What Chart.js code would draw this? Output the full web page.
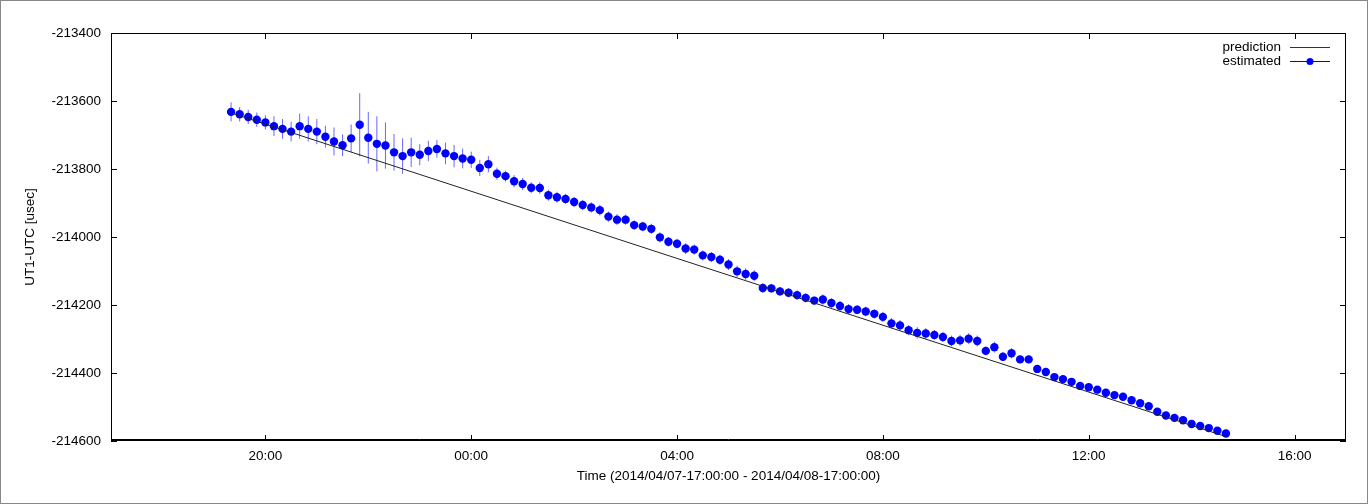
<!DOCTYPE html>
<html>
<head>
<meta charset="utf-8">
<title>UT1-UTC</title>
<script src="https://cdn.jsdelivr.net/npm/chart.js@4"></script>
<style>
  body { margin: 0; background: #fff; }
  canvas { display: block; }
</style>
</head>
<body>
<canvas id="ut1Chart" width="1368" height="504"></canvas>
<script>
// minutes after 2014/04/07 17:00, one sample every 10 minutes (19:20 .. 14:40)
const sampleMinutes = Array.from({length: 117}, (_, i) => 140 + i * 10)

const estimated = [
    -213632, -213639, -213647, -213655, -213663, -213674, -213682, -213690, -213674, -213682,
    -213690, -213705, -213719, -213730, -213710, -213670, -213708, -213726, -213731, -213751,
    -213762, -213751, -213758, -213747, -213741, -213754, -213762, -213769, -213773, -213797,
    -213786, -213814, -213821, -213836, -213844, -213855, -213856, -213877, -213883, -213888,
    -213897, -213906, -213913, -213921, -213940, -213949, -213949, -213965, -213969, -213976,
    -214001, -214014, -214020, -214034, -214037, -214054, -214059, -214067, -214081, -214101,
    -214109, -214114, -214150, -214151, -214160, -214164, -214171, -214179, -214187, -214184,
    -214194, -214203, -214212, -214214, -214219, -214226, -214235, -214254, -214260, -214274,
    -214282, -214284, -214288, -214294, -214306, -214304, -214299, -214306, -214335, -214324,
    -214352, -214342, -214360, -214360, -214388, -214397, -214412, -214418, -214426, -214438,
    -214442, -214449, -214458, -214465, -214470, -214480, -214489, -214498, -214514, -214525,
    -214532, -214539, -214550, -214556, -214562, -214570, -214578
]

const estimatedErr = [
    28, 21, 21, 21, 21, 29, 29, 29, 37, 37,
    37, 32, 41, 32, 41, 93, 76, 81, 68, 54,
    52, 43, 31, 30, 26, 32, 33, 29, 24, 24,
    24, 18, 16, 18, 18, 16, 17, 16, 16, 15,
    15, 15, 15, 16, 15, 16, 15, 14, 14, 15,
    15, 14, 14, 16, 15, 15, 15, 15, 16, 17,
    17, 16, 14, 13, 13, 13, 14, 14, 12, 15,
    14, 15, 15, 13, 14, 14, 15, 16, 16, 15,
    17, 16, 15, 15, 16, 16, 16, 16, 13, 16,
    13, 15, 11, 11, 9, 9, 9, 8, 8, 8,
    8, 8, 8, 8, 8, 8, 8, 8, 8, 8,
    8, 8, 8, 8, 8, 8, 8
]

const predMinutes = [140, 660, 1300]
const prediction = [-213635, -214063, -214587]

const xTickMinutes = [180, 420, 660, 900, 1140, 1380]
const yMin = -214600
const yMax = -213400

const FONT = "'Liberation Sans', Arial, sans-serif"
const BLUE = '#0000ff'

const fmtTime = (m) => {
    const h = (17 + Math.floor(m / 60)) % 24
    return String(h).padStart(2, '0') + ':' + String(m % 60).padStart(2, '0')
}

// vertical error bars for the estimated series
const errorBars = {
    id: 'errorBars',
    beforeDatasetsDraw(chart) {
        const {ctx, scales: {x, y}} = chart
        ctx.save()
        ctx.strokeStyle = 'rgba(0,0,255,0.6)'
        ctx.lineWidth = 1
        estimated.forEach((v, i) => {
            const px = x.getPixelForValue(sampleMinutes[i])
            ctx.beginPath()
            ctx.moveTo(px, y.getPixelForValue(v + estimatedErr[i]))
            ctx.lineTo(px, y.getPixelForValue(v - estimatedErr[i]))
            ctx.stroke()
        })
        ctx.restore()
    }
}

// gnuplot-like frame, inward ticks, legend and outer border
const frame = {
    id: 'frame',
    afterDraw(chart) {
        const {ctx, chartArea: a, scales: {x, y}} = chart
        ctx.save()
        ctx.strokeStyle = '#888'
        ctx.lineWidth = 1
        ctx.strokeRect(0.5, 0.5, chart.width - 1, chart.height - 1)

        ctx.strokeStyle = '#000'
        ctx.strokeRect(a.left + 0.5, a.top + 0.5, a.right - a.left - 1, a.bottom - a.top - 1)
        ctx.beginPath()
        ctx.moveTo(a.left, a.bottom - 1.5)
        ctx.lineTo(a.right, a.bottom - 1.5)
        ctx.stroke()

        ctx.beginPath()
        xTickMinutes.forEach(m => {
            const px = Math.round(x.getPixelForValue(m)) + 0.5
            ctx.moveTo(px, a.bottom); ctx.lineTo(px, a.bottom - 6)
            ctx.moveTo(px, a.top); ctx.lineTo(px, a.top + 6)
        })
        for (let v = yMin; v <= yMax; v += 200) {
            const py = Math.round(y.getPixelForValue(v)) + 0.5
            ctx.moveTo(a.left, py); ctx.lineTo(a.left + 6, py)
            ctx.moveTo(a.right, py); ctx.lineTo(a.right - 6, py)
        }
        ctx.stroke()

        // legend
        ctx.font = '13.5px ' + FONT
        ctx.fillStyle = '#000'
        ctx.textAlign = 'right'
        ctx.textBaseline = 'middle'
        ctx.fillText('prediction', 1281, 47)
        ctx.fillText('estimated', 1281, 61)
        ctx.strokeStyle = '#333'
        ctx.beginPath()
        ctx.moveTo(1290, 47.5); ctx.lineTo(1330, 47.5)
        ctx.stroke()
        ctx.strokeStyle = BLUE
        ctx.beginPath()
        ctx.moveTo(1290, 61.5); ctx.lineTo(1330, 61.5)
        ctx.stroke()
        ctx.fillStyle = BLUE
        ctx.beginPath()
        ctx.arc(1310, 61.5, 3.5, 0, Math.PI * 2)
        ctx.fill()
        ctx.restore()
    }
}

const ctx = document.getElementById('ut1Chart').getContext('2d')

new Chart(ctx, {
    type: 'scatter',
    data: {
        datasets: [{
            label: 'prediction',
            data: predMinutes.map((m, i) => ({x: m, y: prediction[i]})),
            showLine: true,
            borderColor: '#222',
            borderWidth: 1,
            pointRadius: 0,
        }, {
            label: 'estimated',
            data: sampleMinutes.map((m, i) => ({x: m, y: estimated[i]})),
            showLine: false,
            backgroundColor: BLUE,
            borderWidth: 0,
            pointRadius: 4.2,
        }]
    },
    options: {
        responsive: false,
        animation: false,
        devicePixelRatio: 1,
        layout: {padding: {top: 33, right: 22, left: 0, bottom: 0}},
        scales: {
            x: {
                type: 'linear',
                min: 0,
                max: 1440,
                afterBuildTicks: (scale) => { scale.ticks = xTickMinutes.map(v => ({value: v})) },
                afterFit: (scale) => { scale.height = 63 },
                grid: {display: false, drawTicks: false},
                border: {display: false},
                ticks: {
                    padding: 7,
                    color: '#000',
                    maxRotation: 0,
                    font: {family: FONT, size: 13.5},
                    callback: (v) => fmtTime(v)
                },
                title: {
                    display: true,
                    text: 'Time (2014/04/07-17:00:00 - 2014/04/08-17:00:00)',
                    color: '#000',
                    padding: {top: 0, bottom: 20},
                    font: {family: FONT, size: 13.5}
                }
            },
            y: {
                min: yMin,
                max: yMax,
                afterFit: (scale) => { scale.width = 111 },
                grid: {display: false, drawTicks: false},
                border: {display: false},
                ticks: {
                    stepSize: 200,
                    padding: 10,
                    color: '#000',
                    font: {family: FONT, size: 13.5},
                    callback: (v) => String(v)
                },
                title: {
                    display: true,
                    text: 'UT1-UTC [usec]',
                    color: '#000',
                    padding: {top: 22, bottom: 0},
                    font: {family: FONT, size: 13.5}
                }
            }
        },
        plugins: {
            legend: {display: false},
            tooltip: {enabled: false}
        }
    },
    plugins: [errorBars, frame]
});
</script>
</body>
</html>
